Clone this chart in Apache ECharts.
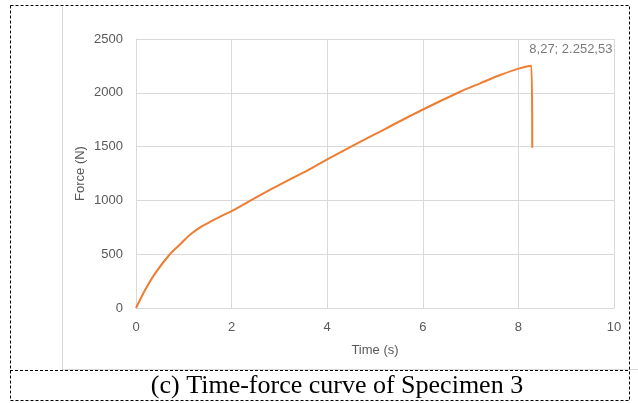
<!DOCTYPE html>
<html>
<head>
<meta charset="utf-8">
<script src="https://cdn.jsdelivr.net/npm/echarts@6/dist/echarts.min.js"></script>
<style>
  html, body { margin: 0; padding: 0; background: #fff; }
  #chart { width: 638px; height: 403px; }
</style>
</head>
<body>
<div id="chart"></div>
<script>
// time (s) and force (N)
const timeValues = [0, 0.19, 0.4, 0.7, 0.92, 1.13, 1.34, 1.55, 1.76, 2.0, 2.4, 2.8, 3.2, 3.6, 4.0, 5.0, 5.94, 6.78, 7.2, 7.62, 8.0, 8.27, 8.29]
const forceValues = [0, 167, 322, 495, 590, 680, 750, 800, 850, 900, 1000, 1097, 1190, 1282, 1382, 1615, 1831, 2010, 2088, 2165, 2225, 2252.53, 1490]
const peakPoint = [8.27, 2252.53]
const peakLabel = '8,27; 2.252,53'
const caption = '(c) Time-force curve of Specimen 3'

const textColor = '#595959'
const gridColor = '#d9d9d9'
const font = 'Liberation Sans'

const chart = echarts.init(document.getElementById('chart'))

chart.setOption({
  animation: false,
  grid: {
    left: 136,
    right: 24,
    top: 39,
    bottom: 95
  },
  xAxis: {
    type: 'value',
    min: 0,
    max: 10,
    interval: 2,
    name: 'Time (s)',
    nameLocation: 'middle',
    nameGap: 36,
    nameTextStyle: { color: textColor, fontSize: 13, fontFamily: font },
    axisLine: { show: true, lineStyle: { color: gridColor } },
    axisTick: { show: false },
    axisLabel: { color: textColor, fontSize: 13, fontFamily: font, margin: 13 },
    splitLine: { show: true, lineStyle: { color: gridColor } }
  },
  yAxis: {
    type: 'value',
    min: 0,
    max: 2500,
    interval: 500,
    name: 'Force (N)',
    nameLocation: 'middle',
    nameGap: 49,
    nameMoveOverlap: false,
    nameTextStyle: { color: textColor, fontSize: 13, fontFamily: font },
    axisLine: { show: true, lineStyle: { color: gridColor } },
    axisTick: { show: false },
    axisLabel: { color: textColor, fontSize: 13, fontFamily: font, margin: 13, formatter: v => String(v) },
    splitLine: { show: true, lineStyle: { color: gridColor } }
  },
  series: [
    {
      type: 'line',
      data: timeValues.map((t, i) => [t, forceValues[i]]),
      showSymbol: false,
      smooth: 0.3,
      lineStyle: { color: '#ed7d31', width: 2 },
      itemStyle: { color: '#ed7d31' }
    },
    {
      type: 'scatter',
      data: [peakPoint],
      symbolSize: 0,
      label: {
        show: true,
        formatter: peakLabel,
        position: [-2, -23],
        color: textColor,
        fontSize: 13,
        fontFamily: font
      }
    }
  ],
  graphic: [
    {
      type: 'line',
      shape: { x1: 62.5, y1: 7, x2: 62.5, y2: 369 },
      style: { stroke: gridColor, lineWidth: 1 }
    },
    {
      type: 'line',
      shape: { x1: 62, y1: 369.5, x2: 638, y2: 369.5 },
      style: { stroke: gridColor, lineWidth: 1 }
    },
    {
      type: 'rect',
      shape: { x: 10.5, y: 5.5, width: 619, height: 395 },
      style: { fill: 'none', stroke: '#000', lineWidth: 1, lineDash: [3, 2] }
    },
    {
      type: 'line',
      shape: { x1: 10, y1: 370.5, x2: 630, y2: 370.5 },
      style: { stroke: '#000', lineWidth: 1, lineDash: [3, 2] }
    },
    {
      type: 'text',
      x: 337,
      y: 386,
      style: {
        text: caption,
        fill: '#000',
        font: '26px "Liberation Serif"',
        align: 'center',
        verticalAlign: 'middle'
      }
    }
  ]
})
</script>
</body>
</html>
